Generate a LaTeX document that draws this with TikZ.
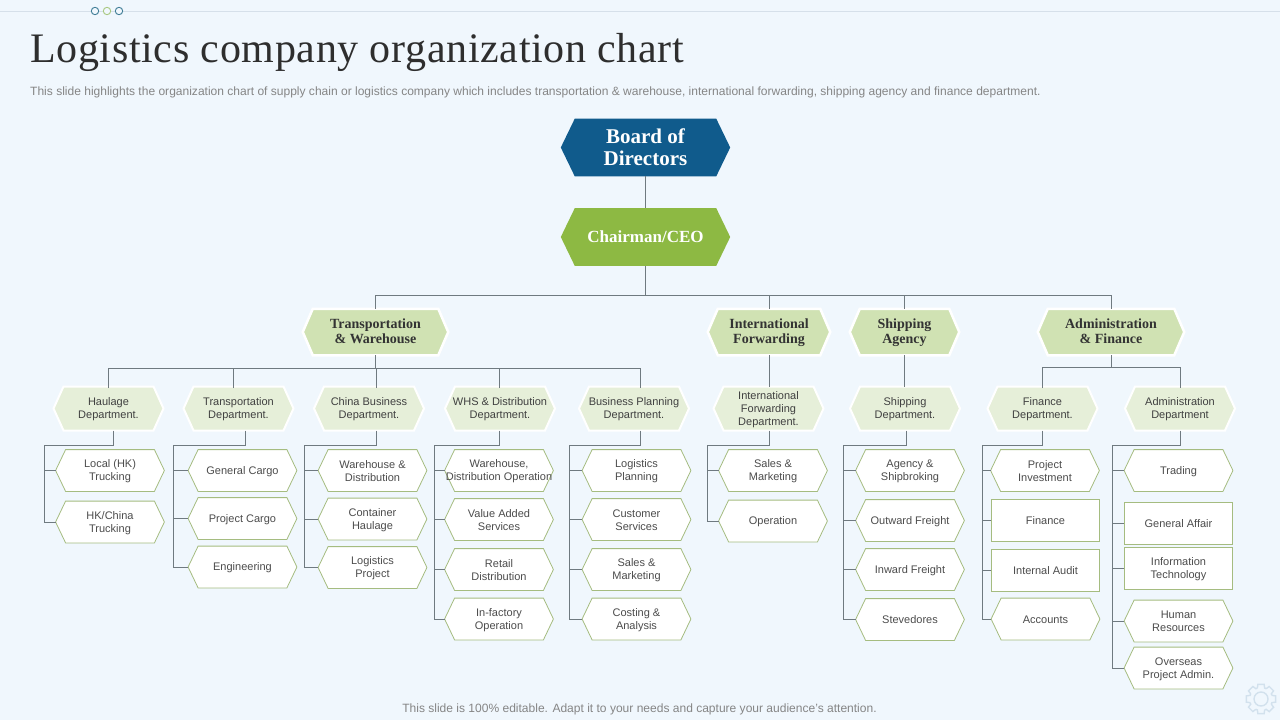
\documentclass[tikz,border=0pt]{standalone}
\usepackage{fontspec}
\setmainfont{Liberation Sans}
\newfontfamily\headfont{Liberation Serif}
\definecolor{bgc}{HTML}{F0F7FD}
\definecolor{linec}{HTML}{6F7A80}
\definecolor{bluec}{HTML}{105B8C}
\definecolor{greenc}{HTML}{8DB943}
\definecolor{ltwo}{HTML}{D0E2B3}
\definecolor{lthree}{HTML}{E6EFD9}
\definecolor{leafc}{HTML}{A5BC80}
\definecolor{headline}{HTML}{D6E0EA}
\definecolor{dotblue}{HTML}{3F7D96}
\definecolor{dotgreen}{HTML}{A8C880}
\definecolor{gearc}{HTML}{D2E1ED}
\def\hexcutval{10pt}
\makeatletter
\pgfdeclareshape{hexa}{
  \inheritsavedanchors[from=rectangle]
  \inheritanchorborder[from=rectangle]
  \inheritanchor[from=rectangle]{center}
  \inheritanchor[from=rectangle]{north}
  \inheritanchor[from=rectangle]{south}
  \inheritanchor[from=rectangle]{west}
  \inheritanchor[from=rectangle]{east}
  \backgroundpath{
    \southwest \pgf@xa=\pgf@x \pgf@ya=\pgf@y
    \northeast \pgf@xb=\pgf@x \pgf@yb=\pgf@y
    \pgf@yc=.5\pgf@ya \advance\pgf@yc by .5\pgf@yb
    \pgfpathmoveto{\pgfqpoint{\pgf@xa}{\pgf@yc}}
    \pgfpathlineto{\pgfpoint{\pgf@xa+\hexcutval}{\pgf@yb}}
    \pgfpathlineto{\pgfpoint{\pgf@xb-\hexcutval}{\pgf@yb}}
    \pgfpathlineto{\pgfqpoint{\pgf@xb}{\pgf@yc}}
    \pgfpathlineto{\pgfpoint{\pgf@xb-\hexcutval}{\pgf@ya}}
    \pgfpathlineto{\pgfpoint{\pgf@xa+\hexcutval}{\pgf@ya}}
    \pgfpathclose
  }
}
\makeatother
\tikzset{
  x=1pt,y=-1pt,
  hexcut/.code={\def\hexcutval{#1pt}},
  struts/.style 2 args={execute at begin node={\rule{0pt}{#1pt}},execute at end node={\rule[-#2pt]{0pt}{#2pt}}},
  hexbase/.style={shape=hexa,hexcut=#1,inner sep=0pt,align=center},
  topbox/.style={hexbase=14,minimum width=169,minimum height=57.5,text=white,font=\headfont\bfseries\fontsize{21}{22}\selectfont},
  second/.style={hexbase=10,struts={27}{4},minimum height=44,fill=ltwo,draw=white,line width=2.5,text=black!80,font=\headfont\bfseries\fontsize{14}{15}\selectfont},
  dept/.style={hexbase=10,struts={23}{3},minimum width=108,minimum height=42,fill=lthree,draw=white,line width=2,text=black!75,font=\fontsize{11}{13}\selectfont},
  leafbase/.style={hexbase=10,minimum width=108,minimum height=41,fill=white,draw=leafc,line width=.8,text=black!70,font=\fontsize{11}{13}\selectfont},
  leaf/.style={leafbase,struts={23}{2}},
  leafone/.style={leafbase,struts={10}{2}},
  rectbase/.style={rectangle,inner sep=0pt,align=center,minimum width=108,minimum height=42,fill=white,draw=leafc,line width=.8,text=black!70,font=\fontsize{11}{13}\selectfont},
  rectleaf/.style={rectbase,struts={23}{2}},
  rectone/.style={rectbase,struts={10}{2}},
  wire/.style={draw=linec,line width=.9},
  note/.style={inner sep=0pt,text=black!48,font=\fontsize{12.03}{14}\selectfont},
}
\begin{document}
\begin{tikzpicture}
\useasboundingbox (0,0) rectangle (1280,720);
\fill[bgc] (0,0) rectangle (1280,720);
% header
\coordinate (hl) at (0,11.5); \coordinate (hr) at (1280,11.5);
\draw[draw=headline,line width=.9] (hl) -- (hr);
\foreach \cx/\cc in {95/dotblue,107/dotgreen,119/dotblue}
  \filldraw[fill=bgc,draw=\cc,line width=.9] (\cx,11) circle (3.7);
\node[anchor=base west,inner sep=0pt,text=black!82,font=\headfont\fontsize{42}{44}\selectfont\addfontfeature{LetterSpace=1.6}] (title) at (30,62) {Logistics company organization chart};
\node[note,anchor=base west] (sub) at (30,95.5) {This slide highlights the organization chart of supply chain or logistics company which includes transportation \& warehouse, international forwarding, shipping agency and finance department.};
\node[note,anchor=base] (foot) at (639.5,712.5) {This slide is 100\% editable. Adapt it to your needs and capture your audience's attention.};
% gear
\begin{scope}[shift={(1261,699)},draw=gearc,line width=1.4]
\foreach \a in {0,45,...,315}
  \draw (\a-22.5+4:11.5) -- (\a-12:15) -- (\a+12:15) -- (\a+22.5-4:11.5) arc[start angle=\a+18.5,end angle=\a+26.5,radius=11.5];
\draw (0,0) circle (7);
\end{scope}
% level 1
\node[topbox,fill=bluec] (board) at (645.5,147.5) {Board of\\Directors};
\node[topbox,fill=greenc,font=\headfont\bfseries\fontsize{17}{20}\selectfont] (ceo) at (645.5,237) {Chairman/CEO};
% level 2
\node[second,minimum width=143] (tw) at (375.5,332) {Transportation\\\& Warehouse};
\node[second,minimum width=120] (intl) at (769,332) {International\\Forwarding};
\node[second,minimum width=107] (ship) at (904.5,332) {Shipping\\Agency};
\node[second,minimum width=144] (adm) at (1111,332) {Administration\\\& Finance};
% level 3
\node[dept] (d1) at (108.5,408.5) {Haulage\\Department.};
\node[dept] (d2) at (238.5,408.5) {Transportation\\Department.};
\node[dept] (d3) at (369,408.5) {China Business\\Department.};
\node[dept] (d4) at (500,408.5) {WHS \& Distribution\\Department.};
\node[dept] (d5) at (634,408.5) {Business Planning\\Department.};
\node[dept,struts={37}{3}] (d6) at (768.5,408.5) {International\\Forwarding\\Department.};
\node[dept] (d7) at (905,408.5) {Shipping\\Department.};
\node[dept] (d8) at (1042.5,408.5) {Finance\\Department.};
\node[dept] (d9) at (1180,408.5) {Administration\\Department};
% level 4
\node[leaf] (a1) at (110,470.5) {Local (HK)\\Trucking};
\node[leaf] (a2) at (110,522) {HK/China\\Trucking};
\node[leafone] (b1) at (242.5,470.5) {General Cargo};
\node[leafone] (b2) at (242.5,518.5) {Project Cargo};
\node[leafone] (b3) at (242.5,567) {Engineering};
\node[leaf] (c1) at (372.5,470.5) {Warehouse \&\\Distribution};
\node[leaf] (c2) at (372.5,519) {Container\\Haulage};
\node[leaf] (c3) at (372.5,567.5) {Logistics\\Project};
\node[leaf] (e1) at (499,470.5) {Warehouse,\\Distribution Operation};
\node[leaf] (e2) at (499,519.5) {Value Added\\Services};
\node[leaf] (e3) at (499,569.5) {Retail\\Distribution};
\node[leaf] (e4) at (499,619) {In-factory\\Operation};
\node[leaf] (f1) at (636.5,470.5) {Logistics\\Planning};
\node[leaf] (f2) at (636.5,519.5) {Customer\\Services};
\node[leaf] (f3) at (636.5,569.5) {Sales \&\\Marketing};
\node[leaf] (f4) at (636.5,619) {Costing \&\\Analysis};
\node[leaf] (g1) at (773,470.5) {Sales \&\\Marketing};
\node[leafone] (g2) at (773,521) {Operation};
\node[leaf] (h1) at (910,470.5) {Agency \&\\Shipbroking};
\node[leafone] (h2) at (910,520.5) {Outward Freight};
\node[leafone] (h3) at (910,569.5) {Inward Freight};
\node[leafone] (h4) at (910,619.5) {Stevedores};
\node[leaf] (i1) at (1045,470.5) {Project\\Investment};
\node[rectone] (i2) at (1045.5,520.5) {Finance};
\node[rectone] (i3) at (1045.5,570) {Internal Audit};
\node[leafone] (i4) at (1045.5,619) {Accounts};
\node[leafone] (j1) at (1178.5,470.5) {Trading};
\node[rectone] (j2) at (1178.5,523) {General Affair};
\node[rectleaf] (j3) at (1178.5,568) {Information\\Technology};
\node[leaf] (j4) at (1178.5,621) {Human\\Resources};
\node[leaf] (j5) at (1178.5,668) {Overseas\\Project Admin.};
% connectors
\coordinate (busA) at (0,295);
\coordinate (busB) at (0,368);
\draw[wire] (board) -- (ceo);
\draw[wire] (ceo.south) -- (ceo.south |- busA);
\draw[wire] (tw.north) -- (tw.north |- busA) -- (adm.north |- busA) -- (adm.north);
\draw[wire] (intl.north) -- (intl.north |- busA);
\draw[wire] (ship.north) -- (ship.north |- busA);
\draw[wire] (intl.south) -- (d6.north -| intl.south);
\draw[wire] (ship.south) -- (d7.north -| ship.south);
\coordinate (d1x) at (108,388);\coordinate (d2x) at (233,388);\coordinate (d3x) at (376,388);\coordinate (d4x) at (499,388);\coordinate (d5x) at (640,388);
\draw[wire] (tw.south) -- (tw.south |- busB);
\draw[wire] (d1x) -- (d1x |- busB) -- (d5x |- busB) -- (d5x);
\draw[wire] (d2x) -- (d2x |- busB);
\draw[wire] (d3x) -- (d3x |- busB);
\draw[wire] (d4x) -- (d4x |- busB);
\coordinate (d8x) at (1042.5,388);\coordinate (d9x) at (1180,388);
\draw[wire] (adm.south) -- (adm.south |- 0,367);
\draw[wire] (d8x) -- (d8x |- 0,367) -- (d9x |- 0,367) -- (d9x);
% trunks: x of drop, x of trunk, last child
\foreach \dep/\dx/\tx/\last in {d1/113/44/a2,d2/245/173/b3,d3/376/304/c3,d4/499/434/e4,d5/640/569/f4,d6/769/707/g2,d7/906/843/h4,d8/1042.5/982/i4,d9/1180/1112/j5}
  \draw[wire] (\dep.south -| \dx,0) -- (\dx,445) -- (\tx,445) -- (\tx,0 |- \last.west);
\foreach \tx/\kid in {44/a1,44/a2,173/b1,173/b2,173/b3,304/c1,304/c2,304/c3,434/e1,434/e2,434/e3,434/e4,569/f1,569/f2,569/f3,569/f4,707/g1,707/g2,843/h1,843/h2,843/h3,843/h4,982/i1,982/i2,982/i3,982/i4,1112/j1,1112/j2,1112/j3,1112/j4,1112/j5}
  \draw[wire] (\tx,0 |- \kid.west) -- (\kid.west);
\end{tikzpicture}
\end{document}
